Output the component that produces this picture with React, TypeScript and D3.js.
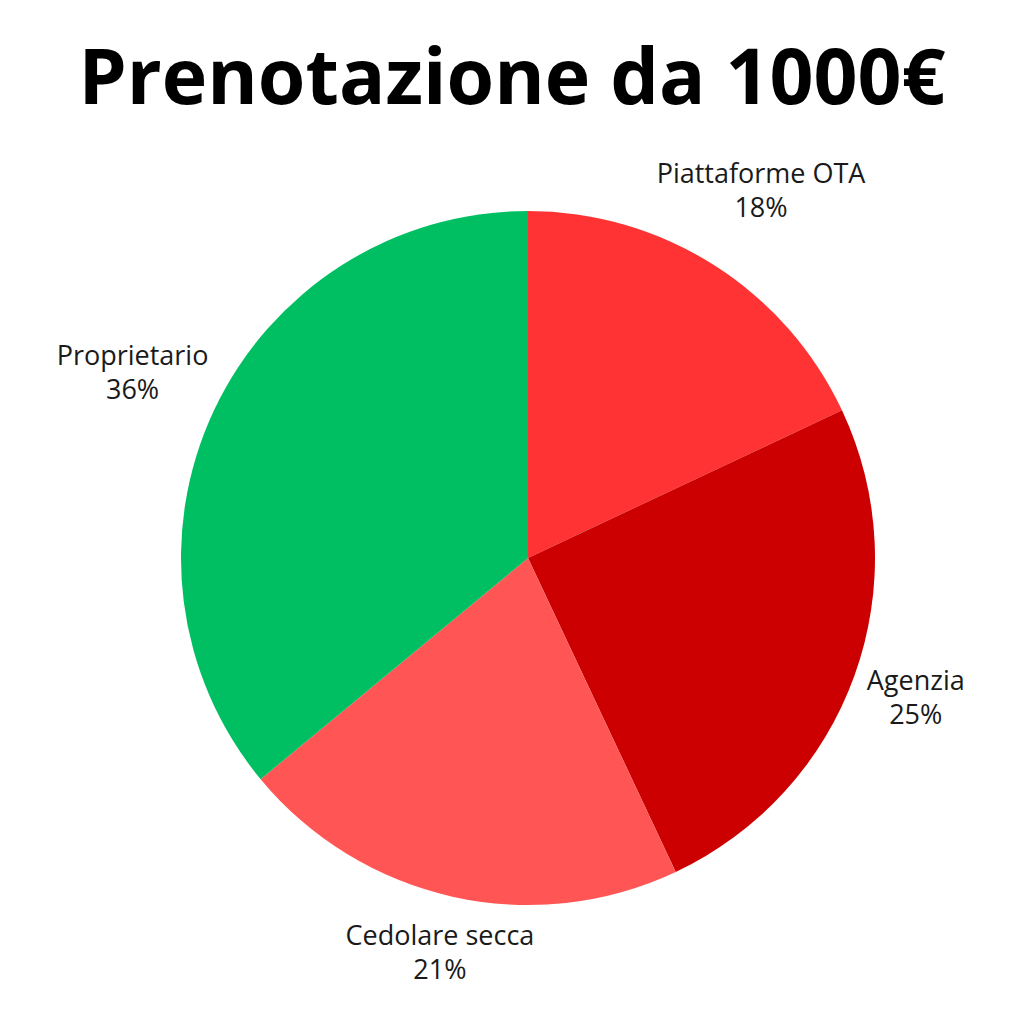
import React, { useEffect, useRef } from 'react';
import * as d3 from 'd3';

const categories = ['Piattaforme OTA', 'Agenzia', 'Cedolare secca', 'Proprietario'];
const shares = [18, 25, 21, 36];
const colors = ['#FF3333', '#CC0000', '#FF5555', '#00BF63'];

interface Slice {
    label: string;
    value: number;
    color: string;
}

const App: React.FC = () => {
    const svgRef = useRef<SVGSVGElement>(null);

    useEffect(() => {
        if (!svgRef.current) return;
        const svg = d3.select(svgRef.current);
        svg.selectAll('*').remove();

        const width = 1024;
        const cx = 528;
        const cy = 558;
        const radius = 347;
        const font = "'Open Sans', 'Noto Sans', sans-serif";
        const labelSize = 27;
        const lineGap = 34;
        const capHeight = labelSize * 0.72;

        const data: Slice[] = categories.map((c, i) => ({ label: c, value: shares[i], color: colors[i] }));

        svg.append('text')
            .attr('x', width / 2)
            .attr('y', 104)
            .attr('text-anchor', 'middle')
            .attr('font-family', font)
            .attr('font-weight', 700)
            .attr('font-size', 77)
            .attr('fill', '#000')
            .text('Prenotazione da 1000€');

        const pie = d3.pie<Slice>()
            .value(d => d.value)
            .sort(null);

        const arc = d3.arc<d3.PieArcDatum<Slice>>()
            .innerRadius(0)
            .outerRadius(radius);

        const g = svg.append('g')
            .attr('transform', `translate(${cx},${cy})`);

        const arcs = pie(data);

        g.selectAll('path')
            .data(arcs)
            .join('path')
            .attr('d', arc)
            .attr('fill', d => d.data.color);

        // labels sit just outside the rim, pushed out by the size of their ink box
        const pad = 10;
        arcs.forEach(a => {
            const mid = (a.startAngle + a.endAngle) / 2;
            const ux = Math.sin(mid);
            const uy = -Math.cos(mid);

            const lbl = g.append('text')
                .attr('text-anchor', 'middle')
                .attr('font-family', font)
                .attr('font-size', labelSize)
                .attr('fill', '#1a1a1a');
            lbl.append('tspan').attr('x', 0).attr('dy', 0).text(a.data.label);
            lbl.append('tspan').attr('x', 0).attr('dy', lineGap).text(`${a.data.value}%`);

            const box = (lbl.node() as SVGTextElement).getBBox();
            const h = lineGap + capHeight;
            const midY = (lineGap - capHeight) / 2;
            const support = Math.abs(ux) * box.width / 2 + Math.abs(uy) * h / 2;
            const dist = radius + pad + support;
            const tx = ux * dist - (box.x + box.width / 2);
            const ty = uy * dist - midY;
            lbl.attr('transform', `translate(${tx},${ty})`);
        });
    }, []);

    return (
        <svg
            ref={svgRef}
            width={1024}
            height={1024}
            style={{ position: 'absolute', left: 0, top: 0, background: '#fff' }}
        ></svg>
    );
};

export default App;
